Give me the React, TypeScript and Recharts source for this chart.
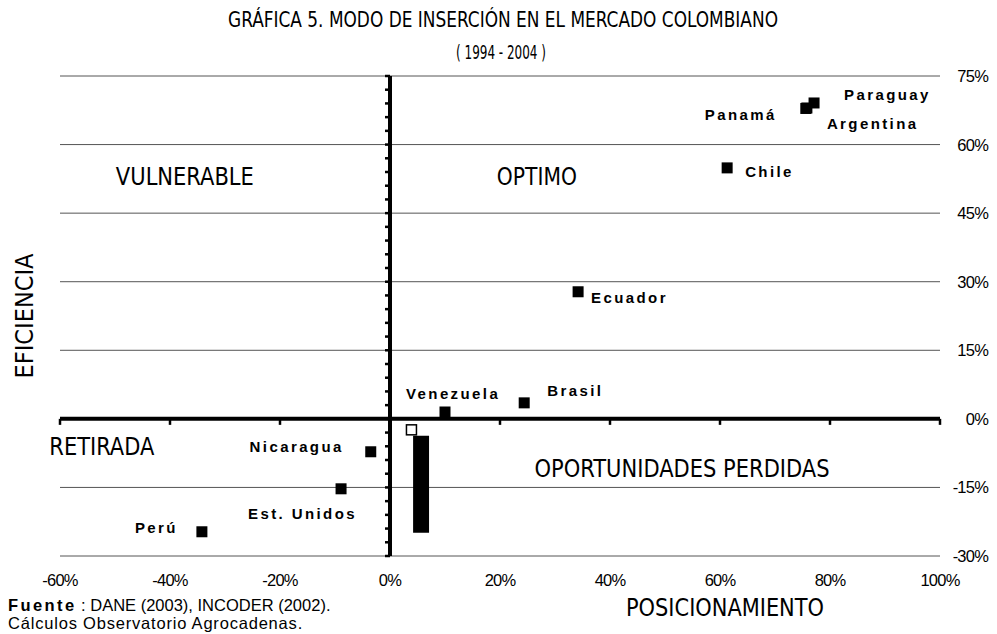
import {
  ScatterChart,
  Scatter,
  XAxis,
  YAxis,
  CartesianGrid,
  ReferenceLine,
  ReferenceArea,
} from 'recharts'

// países: posicionamiento (x) y eficiencia (y), en %
const paises = ['Panamá', 'Argentina', 'Paraguay', 'Chile', 'Ecuador', 'Brasil', 'Venezuela', 'Nicaragua', 'Est. Unidos', 'Perú']
const posicionamiento = [75.6, 75.8, 77.1, 61.3, 34.2, 24.4, 10.0, -3.5, -8.9, -34.2]
const eficiencia = [67.9, 68.0, 69.1, 54.9, 27.8, 3.5, 1.5, -7.2, -15.3, -24.7]

// marcador hueco y barra negra
const huecoX = [3.9]
const huecoY = [-2.4]
const barraX = [4.2, 7.1]
const barraY = [-24.9, -3.7]

// cuadrantes
const cuadrantes = ['VULNERABLE', 'OPTIMO', 'RETIRADA', 'OPORTUNIDADES PERDIDAS']
const cuadrantesX = [-37.3, 26.7, -52.4, 53.1]
const cuadrantesY = [53, 53, -6.1, -10.9]

const xTicks = [-60, -40, -20, 0, 20, 40, 60, 80, 100]
const yTicks = [-30, -15, 0, 15, 30, 45, 60, 75]
const yMinor = [-30, -27, -24, -21, -18, -15, -12, -9, -6, -3, 0, 3, 6, 9, 12, 15, 18, 21, 24, 27, 30, 33, 36, 39, 42, 45, 48, 51, 54, 57, 60, 63, 66, 69, 72, 75]

const puntos = paises.map((name, i) => ({ name, x: posicionamiento[i], y: eficiencia[i] }))
const huecos = huecoX.map((x, i) => ({ x, y: huecoY[i] }))
const zonas = cuadrantes.map((name, i) => ({ name, x: cuadrantesX[i], y: cuadrantesY[i] }))
const marcasY = yMinor.map((y) => ({ x: 0, y }))
const marcasX = xTicks.map((x) => ({ x, y: 0 }))

const NARROW = "'Liberation Sans Narrow', 'DejaVu Sans Condensed', sans-serif"
const SANS = "'Liberation Sans', Arial, sans-serif"

const LABELS: Record<string, { dx: number; dy: number; anchor: 'start' | 'end' }> = {
  'Panamá': { dx: -29, dy: 6, anchor: 'end' },
  Argentina: { dx: 20, dy: 15, anchor: 'start' },
  Paraguay: { dx: 30, dy: -8, anchor: 'start' },
  Chile: { dx: 18, dy: 4, anchor: 'start' },
  Ecuador: { dx: 13, dy: 6, anchor: 'start' },
  Brasil: { dx: 23, dy: -12, anchor: 'start' },
  Venezuela: { dx: -39, dy: -19, anchor: 'start' },
  Nicaragua: { dx: -27, dy: -5, anchor: 'end' },
  'Est. Unidos': { dx: -93, dy: 25, anchor: 'start' },
  'Perú': { dx: -24, dy: -4, anchor: 'end' },
}

const ZONA_LEN: Record<string, number> = {
  VULNERABLE: 138,
  OPTIMO: 80,
  RETIRADA: 105,
  'OPORTUNIDADES PERDIDAS': 295,
}

function Pais(props: any) {
  const { cx, cy, payload } = props
  const l = LABELS[payload.name]
  return (
    <g>
      <rect x={cx - 5.5} y={cy - 5.5} width={11} height={11} fill="#000" />
      <text
        x={cx + l.dx}
        y={cy + l.dy}
        textAnchor={l.anchor}
        dominantBaseline="central"
        fontFamily={SANS}
        fontWeight="bold"
        fontSize={15}
        letterSpacing={2.4}
        fill="#000"
      >
        {payload.name}
      </text>
    </g>
  )
}

function Hueco(props: any) {
  const { cx, cy } = props
  return <rect x={cx - 5} y={cy - 5} width={10} height={10} fill="#fff" stroke="#000" strokeWidth={1.5} />
}

function Zona(props: any) {
  const { cx, cy, payload } = props
  const len = ZONA_LEN[payload.name]
  return (
    <text
      x={cx - len / 2}
      y={cy}
      dominantBaseline="central"
      fontFamily={NARROW}
      fontSize={25}
      textLength={len}
      lengthAdjust="spacingAndGlyphs"
      fill="#000"
    >
      {payload.name}
    </text>
  )
}

const MarcaY = (props: any) => (
  <line x1={props.cx - 5} y1={props.cy} x2={props.cx} y2={props.cy} stroke="#000" strokeWidth={2.5} />
)
const MarcaX = (props: any) => (
  <line x1={props.cx} y1={props.cy} x2={props.cx} y2={props.cy + 6} stroke="#000" strokeWidth={2.5} />
)

const TickX = (props: any) => (
  <text x={props.x} y={580} textAnchor="middle" dominantBaseline="central" fontFamily={SANS} fontSize={16.5} letterSpacing={-0.8} fill="#000">
    {props.payload.value}%
  </text>
)
const TickY = (props: any) => (
  <text x={988} y={props.y} textAnchor="end" dominantBaseline="central" fontFamily={SANS} fontSize={16.5} letterSpacing={-0.8} fill="#000">
    {props.payload.value}%
  </text>
)

export default function App() {
  return (
    <div style={{ position: 'absolute', left: 0, top: 0, width: 997, height: 634, background: '#fff' }}>
      <ScatterChart width={997} height={634} margin={{ top: 76, right: 7, left: 60, bottom: 48 }}>
        <CartesianGrid vertical={false} stroke="#555" strokeWidth={1} />
        <XAxis
          dataKey="x"
          type="number"
          domain={[-60, 100]}
          ticks={xTicks}
          interval={0}
          axisLine={false}
          tickLine={false}
          height={30}
          tick={<TickX />}
        />
        <YAxis
          dataKey="y"
          type="number"
          orientation="right"
          domain={[-30, 75]}
          ticks={yTicks}
          interval={0}
          axisLine={false}
          tickLine={false}
          width={50}
          tick={<TickY />}
        />
        <ReferenceArea x1={barraX[0]} x2={barraX[1]} y1={barraY[0]} y2={barraY[1]} fill="#000" fillOpacity={1} stroke="none" />
        <ReferenceLine y={0} stroke="#000" strokeWidth={4} />
        <ReferenceLine x={0} stroke="#000" strokeWidth={4} />
        <Scatter data={marcasY} shape={<MarcaY />} isAnimationActive={false} />
        <Scatter data={marcasX} shape={<MarcaX />} isAnimationActive={false} />
        <Scatter data={zonas} shape={<Zona />} isAnimationActive={false} />
        <Scatter data={huecos} shape={<Hueco />} isAnimationActive={false} />
        <Scatter data={puntos} shape={<Pais />} isAnimationActive={false} />
      </ScatterChart>
      <svg width={997} height={634} style={{ position: 'absolute', left: 0, top: 0, pointerEvents: 'none' }}>
        <text
          x={228}
          y={20}
          dominantBaseline="central"
          fontFamily={NARROW}
          fontSize={21}
          textLength={550}
          lengthAdjust="spacingAndGlyphs"
          fill="#000"
        >
          GRÁFICA 5. MODO DE INSERCIÓN EN EL MERCADO COLOMBIANO
        </text>
        <text
          x={456}
          y={52}
          dominantBaseline="central"
          fontFamily={NARROW}
          fontSize={20}
          textLength={90}
          lengthAdjust="spacingAndGlyphs"
          fill="#000"
        >
          ( 1994 - 2004 )
        </text>
        <text
          x={24}
          y={316}
          textAnchor="middle"
          dominantBaseline="central"
          fontFamily={NARROW}
          fontSize={25}
          fill="#000"
          transform="rotate(-90 24 316)"
        >
          EFICIENCIA
        </text>
        <text
          x={626}
          y={607}
          dominantBaseline="central"
          fontFamily={NARROW}
          fontSize={25}
          textLength={198}
          lengthAdjust="spacingAndGlyphs"
          fill="#000"
        >
          POSICIONAMIENTO
        </text>
        <text x={8} y={605} dominantBaseline="central" fontFamily={SANS} fontSize={16.5} fill="#000">
          <tspan fontWeight="bold" letterSpacing={2.4}>Fuente</tspan>
          <tspan> : DANE (2003), INCODER (2002).</tspan>
        </text>
        <text x={8} y={623} dominantBaseline="central" fontFamily={SANS} fontSize={16.5} letterSpacing={0.8} fill="#000">
          Cálculos Observatorio Agrocadenas.
        </text>
      </svg>
    </div>
  )
}
